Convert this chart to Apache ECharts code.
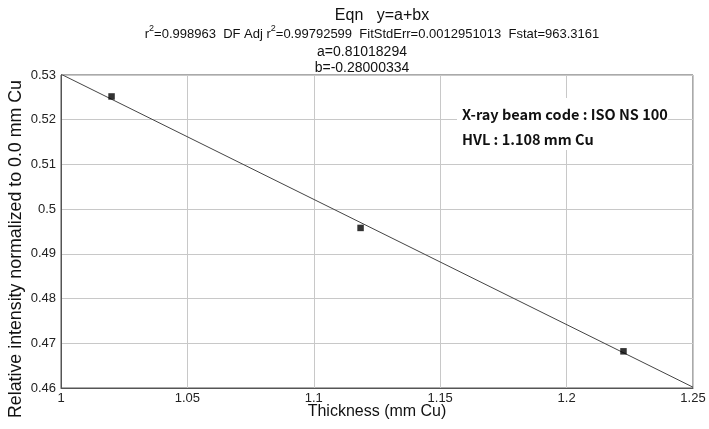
<!DOCTYPE html>
<html>
<head>
<meta charset="utf-8">
<script src="https://cdn.jsdelivr.net/npm/echarts@6/dist/echarts.min.js"></script>
<style>html,body{margin:0;padding:0;background:#fff}#c{width:709px;height:429px}</style>
</head>
<body>
<div id="c"></div>
<script>
// Data
var thickness = [1.02, 1.1185, 1.2225];
var intensity = [0.5252, 0.4958, 0.4682];
var fitX = [1.0, 1.25];
var fitY = [0.53018, 0.46018];
var xTicks = [1, 1.05, 1.1, 1.15, 1.2, 1.25];
var yTicks = [0.46, 0.47, 0.48, 0.49, 0.5, 0.51, 0.52, 0.53];
var titleLine1 = 'Eqn   y=a+bx';
var statsParts = ['r', '2', '=0.998963  DF Adj r', '2', '=0.99792599  FitStdErr=0.0012951013  Fstat=963.3161'];
var coefA = 'a=0.81018294';
var coefB = 'b=-0.28000334';
var note1 = 'X-ray beam code : ISO NS 100';
var note2 = 'HVL : 1.108 mm Cu';
var xName = 'Thickness (mm Cu)';
var yName = 'Relative intensity normalized to 0.0 mm Cu';

var chart = echarts.init(document.getElementById('c'));
var pts = thickness.map(function (x, i) { return [x, intensity[i]]; });
var fit = fitX.map(function (x, i) { return [x, fitY[i]]; });
var font = '"Liberation Sans", Arial, sans-serif';
var fmt = function (v) { return String(+v.toFixed(2)); };

chart.setOption({
  animation: false,
  backgroundColor: '#fff',
  title: [
    { text: titleLine1, left: 377, top: 3, textAlign: 'center',
      textStyle: { fontFamily: font, fontSize: 16, fontWeight: 'normal', color: '#111' } },
    { text: '{n|' + statsParts[0] + '}{s|' + statsParts[1] + '}{n|' + statsParts[2] + '}{s|' + statsParts[3] + '}{n|' + statsParts[4] + '}',
      left: 367, top: 19, textAlign: 'center',
      textStyle: { fontFamily: font, fontSize: 13, fontWeight: 'normal', color: '#111',
        rich: { n: { fontFamily: font, fontSize: 13, color: '#111', verticalAlign: 'bottom', lineHeight: 17 },
                s: { fontFamily: font, fontSize: 9, color: '#111', verticalAlign: 'top', lineHeight: 17, padding: [0, 0, 7, 0] } } } },
    { text: coefA, left: 357, top: 40, textAlign: 'center',
      textStyle: { fontFamily: font, fontSize: 14, fontWeight: 'normal', color: '#111' } },
    { text: coefB, left: 357, top: 56, textAlign: 'center',
      textStyle: { fontFamily: font, fontSize: 14, fontWeight: 'normal', color: '#111' } }
  ],
  grid: { left: 61, right: 16, top: 75, bottom: 41, show: true, borderColor: '#555', borderWidth: 1, backgroundColor: 'transparent' },
  xAxis: {
    type: 'value', min: xTicks[0], max: xTicks[xTicks.length - 1], interval: 0.05,
    axisLine: { show: true, lineStyle: { color: '#555' } },
    axisTick: { show: false },
    splitLine: { show: true, lineStyle: { color: '#c8c8c8', width: 1 } },
    axisLabel: { fontFamily: font, fontSize: 13, color: '#222', margin: 4, formatter: fmt }
  },
  yAxis: {
    type: 'value', min: yTicks[0], max: yTicks[yTicks.length - 1], interval: 0.01,
    axisLine: { show: true, lineStyle: { color: '#555' } },
    axisTick: { show: false },
    splitLine: { show: true, lineStyle: { color: '#c8c8c8', width: 1 } },
    axisLabel: { fontFamily: font, fontSize: 13, color: '#222', margin: 5, formatter: fmt }
  },
  series: [
    { type: 'line', data: fit, symbol: 'none', silent: true,
      lineStyle: { color: '#444', width: 1 }, z: 2 },
    { type: 'scatter', data: pts, symbol: 'rect', symbolSize: 6.5,
      itemStyle: { color: '#000' }, z: 3 }
  ],
  graphic: [
    { type: 'text', x: 377, y: 412, z: 11,
      style: { text: xName, fill: '#111', font: '16px ' + font, align: 'center', verticalAlign: 'middle' } },
    { type: 'text', x: 16, y: 249, rotation: Math.PI / 2, z: 11,
      style: { text: yName, fill: '#111', font: '17.8px ' + font, align: 'center', verticalAlign: 'middle' } },
    { type: 'rect', left: 457, top: 98, shape: { width: 211, height: 52 },
      style: { fill: '#fff', stroke: 'none' }, z: 10 },
    { type: 'text', left: 462, top: 107, z: 11,
      style: { text: note1, fill: '#111', font: 'bold 14.5px "Noto Sans CJK KR", "Open Sans", sans-serif' } },
    { type: 'text', left: 462, top: 132, z: 11,
      style: { text: note2, fill: '#111', font: 'bold 14.5px "Noto Sans CJK KR", "Open Sans", sans-serif' } }
  ]
});
</script>
</body>
</html>
